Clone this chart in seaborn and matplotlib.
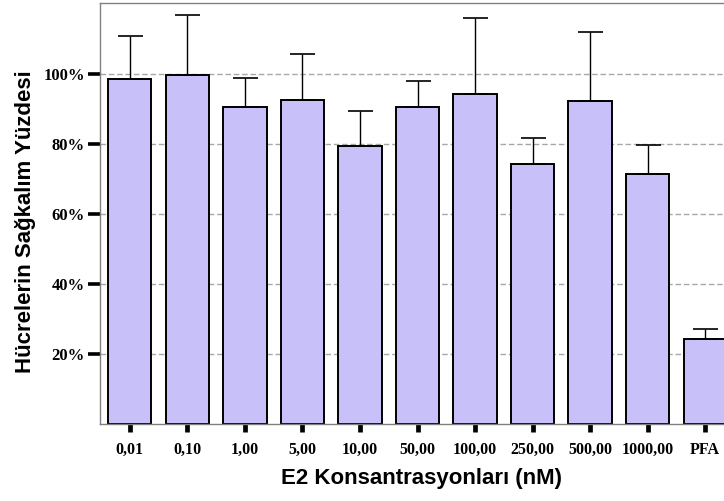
import matplotlib
matplotlib.use("Agg")
import matplotlib.pyplot as plt
import seaborn as sns
import pandas as pd
import numpy as np

# Concentrations of E2 (nM) and the PFA control
categories = ["0,01", "0,10", "1,00", "5,00", "10,00", "50,00", "100,00",
              "250,00", "500,00", "1000,00", "PFA"]
# Mean cell survival (%) and upper end of the error bar (%)
survival_mean = [98.6, 99.7, 90.6, 92.7, 79.3, 90.6, 94.2, 74.3, 92.3, 71.4, 24.3]
survival_upper = [111.0, 116.9, 98.9, 105.6, 89.3, 98.1, 116.1, 81.7, 112.0, 79.7, 27.1]
y_ticks = [20, 40, 60, 80, 100]
y_tick_labels = ["20%", "40%", "60%", "80%", "100%"]

df = pd.DataFrame({"konsantrasyon": categories, "yuzde": survival_mean})

sns.set_style("white")
plt.rcParams["font.family"] = ["Liberation Serif", "DejaVu Serif"]
plt.rcParams["text.color"] = "black"
plt.rcParams["axes.labelcolor"] = "black"
plt.rcParams["xtick.color"] = "black"
plt.rcParams["ytick.color"] = "black"

fig = plt.figure(figsize=(7.24, 5.01), dpi=100)
ax = fig.add_axes([100 / 724, 77 / 501, 635 / 724, 421 / 501])

sns.barplot(data=df, x="konsantrasyon", y="yuzde", order=categories,
            color="#c8c0f8", saturation=1, width=0.75,
            edgecolor="black", linewidth=1.4, errorbar=None, ax=ax, zorder=2)

# upper-only error bars
x = np.arange(len(categories))
err_up = np.array(survival_upper) - np.array(survival_mean)
ax.errorbar(x, survival_mean, yerr=[np.zeros_like(err_up), err_up],
            fmt="none", ecolor="black", elinewidth=1.0, capsize=9,
            capthick=1.2, zorder=3)

ax.set_xlim(-0.52, len(categories) - 0.48)
ax.set_ylim(0, 120.3)
ax.set_yticks(y_ticks)
ax.set_yticklabels(y_tick_labels)

ax.yaxis.grid(True, linestyle=(0, (4, 2)), color="#a8a8a8", linewidth=1.0, zorder=0)
ax.set_axisbelow(True)

for side in ["left", "top", "bottom", "right"]:
    ax.spines[side].set_color("#808080")
    ax.spines[side].set_linewidth(1.0)

ax.tick_params(axis="y", left=True, direction="out", length=9, width=2.6,
               color="black", labelcolor="black", pad=2, labelsize=12)
ax.tick_params(axis="x", bottom=True, direction="out", length=6, width=3.4,
               color="black", labelcolor="black", pad=7, labelsize=11.5)
for lbl in ax.get_xticklabels() + ax.get_yticklabels():
    lbl.set_fontweight("bold")

ax.set_xlabel("E2 Konsantrasyonları (nM)", fontsize=16, fontweight="bold",
              family=["Liberation Sans", "DejaVu Sans"], color="black")
ax.set_ylabel("Hücrelerin Sağkalım Yüzdesi", fontsize=16, fontweight="bold",
              family=["Liberation Sans", "DejaVu Sans"], color="black")
ax.xaxis.set_label_coords(0.507, -0.105)
ax.yaxis.set_label_coords(-0.100, 0.48)

fig.savefig("out.png", dpi=100)
